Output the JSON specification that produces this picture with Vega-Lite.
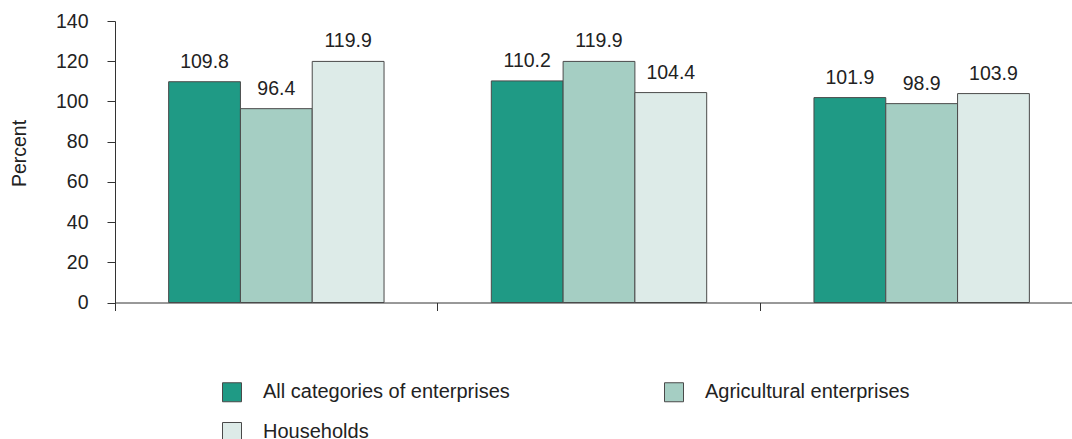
{
  "$schema": "https://vega.github.io/schema/vega-lite/v6.json",
  "width": 968,
  "height": 281.5,
  "autosize": {"type": "none"},
  "padding": {"left": 115, "top": 21, "right": 0, "bottom": 136},
  "background": "white",
  "config": {
    "view": {"stroke": null},
    "font": "Liberation Sans"
  },
  "data": {
    "values": [
      {"group": "1", "series": "All categories of enterprises", "value": 109.8},
      {"group": "1", "series": "Agricultural enterprises", "value": 96.4},
      {"group": "1", "series": "Households", "value": 119.9},
      {"group": "2", "series": "All categories of enterprises", "value": 110.2},
      {"group": "2", "series": "Agricultural enterprises", "value": 119.9},
      {"group": "2", "series": "Households", "value": 104.4},
      {"group": "3", "series": "All categories of enterprises", "value": 101.9},
      {"group": "3", "series": "Agricultural enterprises", "value": 98.9},
      {"group": "3", "series": "Households", "value": 103.9}
    ]
  },
  "encoding": {
    "x": {
      "field": "group",
      "type": "nominal",
      "scale": {"paddingInner": 0, "paddingOuter": 0},
      "axis": {
        "title": null,
        "labels": false,
        "ticks": true,
        "bandPosition": 0,
        "tickSize": 8,
        "tickColor": "#333333",
        "domainColor": "#333333",
        "grid": false
      }
    },
    "xOffset": {
      "field": "series",
      "type": "nominal",
      "sort": ["All categories of enterprises", "Agricultural enterprises", "Households"],
      "scale": {"paddingInner": 0, "paddingOuter": 0.747}
    },
    "y": {
      "field": "value",
      "type": "quantitative",
      "scale": {"domain": [0, 140], "nice": false},
      "axis": {
        "title": "Percent",
        "values": [0, 20, 40, 60, 80, 100, 120, 140],
        "grid": false,
        "tickSize": 8,
        "tickColor": "#333333",
        "domainColor": "#333333",
        "labelFontSize": 19.5,
        "labelColor": "#222222",
        "labelPadding": 19,
        "titleFontSize": 19.5,
        "titleFontWeight": "normal",
        "titleColor": "#222222",
        "titlePadding": 26,
        "titleY": 132
      }
    }
  },
  "layer": [
    {
      "mark": {"type": "bar", "stroke": "#4a4a4a", "strokeWidth": 1},
      "encoding": {
        "color": {
          "field": "series",
          "type": "nominal",
          "sort": ["All categories of enterprises", "Agricultural enterprises", "Households"],
          "scale": {
            "domain": ["All categories of enterprises", "Agricultural enterprises", "Households"],
            "range": ["#1f9a85", "#a5cec3", "#ddebe8"]
          },
          "legend": {
            "title": null,
            "orient": "none",
            "legendX": 107,
            "legendY": 361,
            "direction": "horizontal",
            "columns": 2,
            "columnPadding": 152,
            "rowPadding": 16,
            "symbolType": "square",
            "symbolSize": 361,
            "symbolStrokeColor": "#4a4a4a",
            "symbolStrokeWidth": 1,
            "labelFontSize": 20,
            "labelColor": "#222222",
            "labelOffset": 21,
            "labelLimit": 400,
            "padding": 0
          }
        }
      }
    },
    {
      "mark": {"type": "text", "baseline": "alphabetic", "dy": -14, "fontSize": 19.5, "color": "#222222"},
      "encoding": {
        "text": {"field": "value", "type": "quantitative", "format": ".1f"}
      }
    }
  ]
}
